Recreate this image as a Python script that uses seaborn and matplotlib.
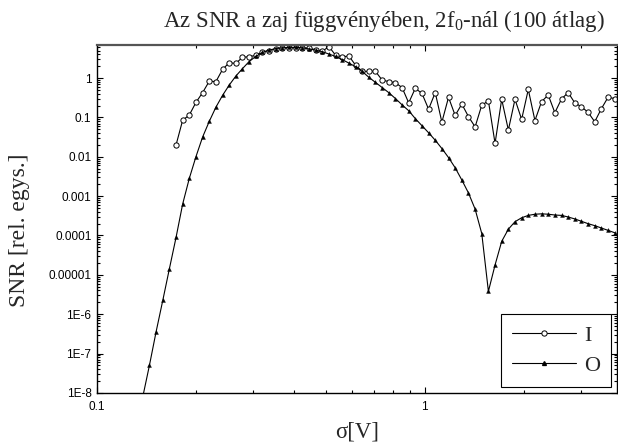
import numpy as np
import pandas as pd
import matplotlib
matplotlib.use("Agg")
import matplotlib.pyplot as plt
from matplotlib.lines import Line2D
from matplotlib.ticker import LogLocator, NullFormatter, FixedLocator, FixedFormatter
import seaborn as sns

# ---- data ----
sigma_O = [0.1379, 0.1445, 0.1514, 0.1587, 0.1662, 0.1742, 0.1825, 0.1912, 0.2003, 0.2099,
           0.2200, 0.2305, 0.2415, 0.2530, 0.2651, 0.2778, 0.2911, 0.3050, 0.3196, 0.3349,
           0.3509, 0.3677, 0.3852, 0.4036, 0.4229, 0.4432, 0.4644, 0.4866, 0.5098, 0.5342,
           0.5597, 0.5865, 0.6145, 0.6439, 0.6747, 0.7069, 0.7407, 0.7761, 0.8133, 0.8521,
           0.8928, 0.9352, 0.9799, 1.0267, 1.0758, 1.1271, 1.1810, 1.2375, 1.2966, 1.3586,
           1.4235, 1.4915, 1.5628, 1.6375, 1.7157, 1.7980, 1.8836, 1.9737, 2.0681, 2.1668,
           2.2702, 2.3788, 2.4924, 2.6117, 2.7363, 2.8669, 3.0039, 3.1475, 3.2977, 3.4553,
           3.6202, 3.7933]
log_snr_O = [-8.1, -7.3, -6.45, -5.65, -4.85, -4.05, -3.2, -2.55, -2.0, -1.5,
             -1.1, -0.74, -0.44, -0.18, 0.05, 0.24, 0.42, 0.55, 0.65, 0.71,
             0.75, 0.77, 0.78, 0.78, 0.77, 0.74, 0.71, 0.67, 0.61, 0.55,
             0.47, 0.38, 0.29, 0.17, 0.02, -0.11, -0.24, -0.37, -0.52, -0.68,
             -0.83, -1.03, -1.21, -1.39, -1.58, -1.79, -2.02, -2.28, -2.59, -2.92,
             -3.33, -3.95, -5.42, -4.75, -4.15, -3.84, -3.65, -3.55, -3.49, -3.46,
             -3.45, -3.46, -3.48, -3.49, -3.53, -3.58, -3.64, -3.70, -3.75, -3.81,
             -3.87, -3.93]

sigma_I = sigma_O[5:]
log_snr_I = [-1.70, -1.07, -0.94, -0.62, -0.37, -0.08, -0.09, 0.22, 0.39, 0.37,
             0.53, 0.54, 0.58, 0.66, 0.70, 0.74, 0.76, 0.76, 0.77, 0.77,
             0.76, 0.72, 0.68, 0.80, 0.58, 0.54, 0.56, 0.33, 0.17, 0.17,
             0.17, -0.05, -0.09, -0.12, -0.24, -0.63, -0.26, -0.39, -0.79, -0.37,
             -1.12, -0.49, -0.95, -0.66, -0.98, -1.24, -0.69, -0.58, -1.66, -0.54,
             -1.32, -0.54, -1.05, -0.29, -1.08, -0.60, -0.43, -0.88, -0.53, -0.37,
             -0.63, -0.73, -0.87, -1.11, -0.78, -0.49, -0.52]

snr_O = [10 ** v for v in log_snr_O]
snr_I = [10 ** v for v in log_snr_I]

ytick_vals = [1e-8, 1e-7, 1e-6, 1e-5, 1e-4, 1e-3, 1e-2, 1e-1, 1]
ytick_labels = ["1E-8", "1E-7", "1E-6", "0.00001", "0.0001", "0.001", "0.01", "0.1", "1"]
xtick_vals = [0.1, 1]
xtick_labels = ["0.1", "1"]
series_names = ["I", "O"]

title = "Az SNR a zaj függvényében, 2f$_0$-nál (100 átlag)"
xlabel = "σ[V]"
ylabel = "SNR [rel. egys.]"

# ---- plot ----
sns.set_style("ticks")
plt.rcParams["font.family"] = ["Liberation Sans", "DejaVu Sans"]
plt.rcParams["mathtext.fontset"] = "custom"
plt.rcParams["mathtext.rm"] = "Liberation Serif"
plt.rcParams["mathtext.it"] = "Liberation Serif"

fig = plt.figure(figsize=(6.18, 4.48), dpi=100)
ax = fig.add_axes([0.157, 0.123, 0.841, 0.777])

df_I = pd.DataFrame({"sigma": sigma_I, "snr": snr_I})
df_O = pd.DataFrame({"sigma": sigma_O, "snr": snr_O})

sns.lineplot(data=df_I, x="sigma", y="snr", ax=ax, color="black", lw=0.8,
             marker="o", markersize=3.8, markerfacecolor="white",
             markeredgecolor="black", markeredgewidth=0.7, sort=False)
sns.lineplot(data=df_O, x="sigma", y="snr", ax=ax, color="black", lw=0.8,
             marker="^", markersize=2.8, markerfacecolor="black",
             markeredgecolor="black", markeredgewidth=0.3, sort=False)

ax.set_xscale("log")
ax.set_yscale("log")
ax.set_xlim(0.1, 3.85)
ax.set_ylim(1e-8, 7.0)

ax.yaxis.set_major_locator(FixedLocator(ytick_vals))
ax.yaxis.set_major_formatter(FixedFormatter(ytick_labels))
ax.xaxis.set_major_locator(FixedLocator(xtick_vals))
ax.xaxis.set_major_formatter(FixedFormatter(xtick_labels))
ax.xaxis.set_minor_locator(LogLocator(base=10, subs=np.arange(2, 10)))
ax.yaxis.set_minor_locator(LogLocator(base=10, subs=np.arange(2, 10), numticks=20))
ax.xaxis.set_minor_formatter(NullFormatter())
ax.yaxis.set_minor_formatter(NullFormatter())

ax.tick_params(which="both", direction="in", top=True, right=True, width=0.8, colors="black")
ax.tick_params(which="major", length=4, labelsize=8.5, pad=4)
ax.tick_params(axis="x", which="major", pad=6)
ax.tick_params(which="minor", length=2.5)
for s in ax.spines.values():
    s.set_linewidth(1.0)
    s.set_color("black")
ax.spines["top"].set_linewidth(1.6)
ax.spines["top"].set_color("#555555")

serif = ["Liberation Serif", "DejaVu Serif"]
ax.set_title(title, fontsize=16.5, family=serif, x=0.552, pad=13)
ax.set_xlabel(xlabel, fontsize=16.5, family=serif, labelpad=6)
ax.set_ylabel(ylabel, fontsize=17, family=serif)
ax.yaxis.set_label_coords(-0.128, 0.466)

handles = [
    Line2D([], [], color="black", lw=0.8, marker="o", markersize=3.8,
           markerfacecolor="white", markeredgecolor="black", markeredgewidth=0.7),
    Line2D([], [], color="black", lw=0.8, marker="^", markersize=2.8,
           markerfacecolor="black", markeredgecolor="black"),
]
leg = ax.legend(handles, series_names, loc="lower right", frameon=True, fancybox=False,
                edgecolor="black", framealpha=1, handlelength=2.9, handletextpad=0.35,
                borderaxespad=0.25, labelspacing=0.45, borderpad=0.5,
                prop={"family": serif, "size": 16})
leg.get_frame().set_linewidth(0.8)

fig.savefig("out.png", dpi=100)
